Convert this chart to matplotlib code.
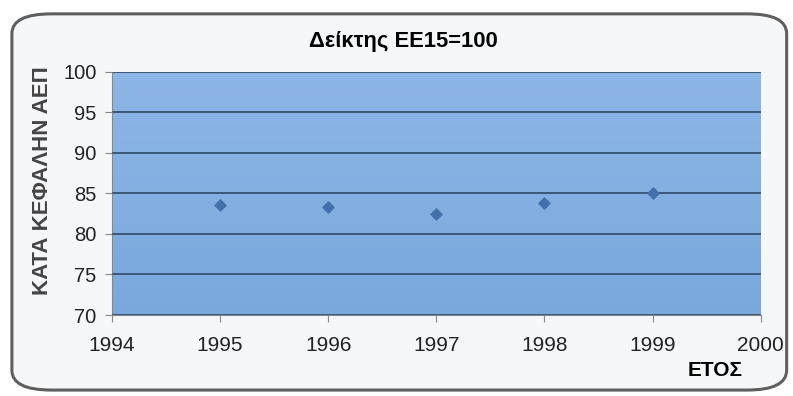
import numpy as np
import matplotlib.pyplot as plt
from matplotlib.patches import FancyBboxPatch
from matplotlib.colors import LinearSegmentedColormap

plt.rcParams['font.family'] = ['Liberation Sans', 'DejaVu Sans']

# data
years = [1995, 1996, 1997, 1998, 1999]
index_values = [83.6, 83.3, 82.5, 83.8, 85.0]
x_ticks = [1994, 1995, 1996, 1997, 1998, 1999, 2000]
y_ticks = [70, 75, 80, 85, 90, 95, 100]

fig = plt.figure(figsize=(7.93, 3.96), dpi=100)
fig.patch.set_facecolor('white')

# rounded frame around the chart
frame = FancyBboxPatch((0.015, 0.015), 0.977, 0.95,
                       boxstyle='round,pad=0,rounding_size=0.05',
                       transform=fig.transFigure, facecolor='#f6f7f9',
                       edgecolor='#5f5f5f', linewidth=2.2, zorder=-10)
fig.patches.append(frame)

ax = fig.add_axes([0.1412, 0.2045, 0.818, 0.614])

# blue gradient background
grad = np.linspace(0, 1, 256).reshape(-1, 1)
cmap = LinearSegmentedColormap.from_list('bg', ['#7aa8dd', '#8db6e6'])
ax.imshow(grad, aspect='auto', cmap=cmap, extent=[1994, 2000, 70, 100],
          origin='lower', zorder=0)

ax.set_xlim(1994, 2000)
ax.set_ylim(70, 100)
ax.set_xticks(x_ticks)
ax.set_yticks(y_ticks)
ax.yaxis.grid(True, color='#3c5878', linewidth=1.4)
ax.set_axisbelow(False)

ax.scatter(years, index_values, marker='D', s=32, color='#4270aa', zorder=3)

for side in ['top', 'right']:
    ax.spines[side].set_visible(False)
ax.spines['left'].set_color('#888888')
ax.spines['bottom'].set_color('#888888')
ax.tick_params(axis='y', labelsize=14.5, colors='#888888', labelcolor='#222222',
               length=5, pad=6)
ax.tick_params(axis='x', labelsize=15, colors='#888888', labelcolor='#222222',
               length=5, pad=10)

fig.text(403 / 793, 1 - 42 / 396, 'Δείκτης ΕΕ15=100', fontsize=15.8,
         fontweight='bold', ha='center', va='center')
fig.text(43 / 793, 1 - 181 / 396, 'ΚΑΤΑ ΚΕΦΑΛΗΝ ΑΕΠ', fontsize=16,
         fontweight='bold', color='#444444', rotation=90,
         ha='center', va='center')
fig.text(715 / 793, 1 - 371 / 396, 'ΕΤΟΣ', fontsize=15, fontweight='bold',
         ha='center', va='center')

fig.savefig('out.png', dpi=100)
